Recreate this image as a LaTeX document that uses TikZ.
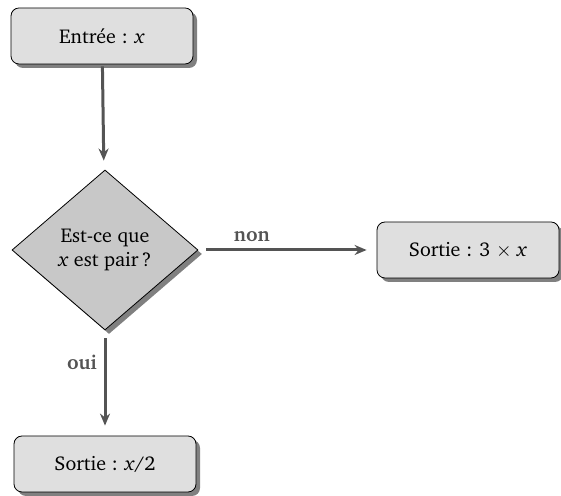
\documentclass[tikz,border=0pt]{standalone}
\usepackage[T1]{fontenc}
\usepackage{charter}
\usetikzlibrary{arrows.meta,shapes.geometric,shadows}

\begin{document}
\begin{tikzpicture}[x=0.5pt,y=0.5pt,
  sh/.style={drop shadow={shadow xshift=2pt,shadow yshift=-2pt,fill=gray,opacity=1}},
  b/.style={draw,rounded corners=4pt,fill=gray!25,sh,minimum width=91pt,minimum height=28pt},
  q/.style={diamond,draw,fill=gray!43,sh,align=center,inner sep=0pt,minimum width=93pt,minimum height=80pt},
  fl/.style={-{Stealth[length=6pt,width=5pt]},line width=1.5pt,draw=black!67,shorten >=5pt,shorten <=4pt},
  lbl/.style={font=\bfseries,text=black!67}]
\useasboundingbox (0,0) rectangle (561,496);
\node[b] (in) at (102,460) {Entr\'ee : \textit{x}};
\node[q] (test) at (105,246) {Est-ce que\\\textit{x} est pair\,?};
\node[b] (odd) at (468,246) {Sortie : 3 $\times$ \textit{x}};
\node[b] (even) at (105,32) {Sortie : \textit{x}/2};
\draw[fl,shorten <=1pt] (in) -- (test);
\draw[fl] (test) -- node[lbl,above,pos=0.3]{non} (odd);
\draw[fl] (test) -- node[lbl,left,pos=0.3]{oui} (even);
\end{tikzpicture}
\end{document}
